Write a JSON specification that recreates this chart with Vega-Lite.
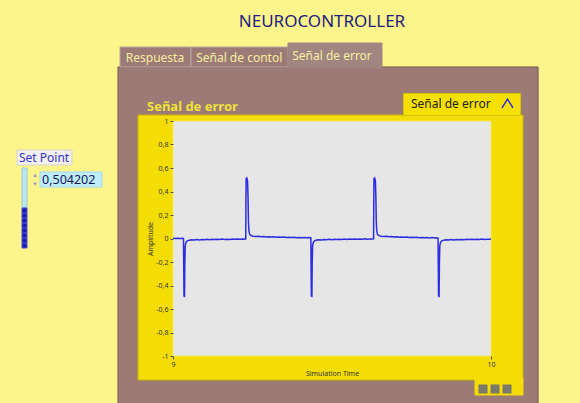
{
  "$schema": "https://vega.github.io/schema/vega-lite/v6.json",
  "width": 318,
  "height": 235,
  "autosize": {"type": "none"},
  "padding": {"left": 173, "top": 121, "right": 89, "bottom": 47},
  "background": "#fdf48c",
  "title": {"text": "NEUROCONTROLLER", "fontSize": 17, "fontWeight": "normal", "color": "#1c1c80", "anchor": "middle", "offset": 12, "dx": -10},
  "config": {"view": {"stroke": null}, "font": "Noto Sans"},
  "encoding": {
    "x": {
      "field": "t", "type": "quantitative",
      "scale": {"domain": [9, 10], "nice": false, "zero": false},
      "axis": {"values": [9, 10], "format": "d", "title": "Simulation Time", "titleFontSize": 7, "titleFontWeight": "normal", "titleColor": "#333333", "titlePadding": 2, "labelFontSize": 7, "labelColor": "#333333", "labelFlush": false, "labelPadding": 1, "tickSize": 3, "tickColor": "#555555", "domain": false, "grid": false, "zindex": 1}
    },
    "y": {
      "field": "v", "type": "quantitative",
      "scale": {"domain": [-1, 1], "nice": false, "zero": false},
      "axis": {"values": [-1, -0.8, -0.6, -0.4, -0.2, 0, 0.2, 0.4, 0.6, 0.8, 1], "labelExpr": "replace(replace(format(datum.value, '.1~f'), '.', ','), '−', '-')", "title": "Amplitude", "titleFontSize": 7, "titleFontWeight": "normal", "titleColor": "#333333", "titlePadding": 2, "labelFontSize": 7, "labelColor": "#333333", "labelPadding": 2, "tickSize": 3, "tickColor": "#555555", "domain": false, "grid": false, "zindex": 1}
    }
  },
  "layer": [
    {
      "data": {"values": [
        {"t": 8.827, "t2": 10.148, "v": -1.45, "v2": 1.4596, "part": "panel"},
        {"t": 8.8333, "t2": 9.0566, "v": 1.4596, "v2": 1.6298, "part": "tab"},
        {"t": 9.0566, "t2": 9.3616, "v": 1.4596, "v2": 1.6298, "part": "tab"},
        {"t": 9.3616, "t2": 9.6572, "v": 1.452, "v2": 1.6638, "part": "active tab"},
        {"t": 8.8899, "t2": 10.1006, "v": -1.2043, "v2": 1.0511, "part": "frame"},
        {"t": 9.9497, "t2": 10.1006, "v": -1.3319, "v2": -1.19, "part": "strip"},
        {"t": 9.9591, "t2": 9.9906, "v": -1.3234, "v2": -1.2383, "part": "tool"},
        {"t": 9.9969, "t2": 10.0283, "v": -1.3234, "v2": -1.2383, "part": "tool"},
        {"t": 10.0346, "t2": 10.066, "v": -1.3234, "v2": -1.2383, "part": "tool"},
        {"t": 9, "t2": 10, "v": -1, "v2": 1, "part": "plot"},
        {"t": 8.5094, "t2": 8.6824, "v": 0.6255, "v2": 0.7532, "part": "label"},
        {"t": 8.5252, "t2": 8.5409, "v": 0.2596, "v2": 0.6, "part": "track"},
        {"t": 8.5252, "t2": 8.5409, "v": -0.0809, "v2": -0.0383, "part": "level"},
        {"t": 8.5252, "t2": 8.5409, "v": -0.0383, "v2": 0.0043, "part": "level"},
        {"t": 8.5252, "t2": 8.5409, "v": 0.0043, "v2": 0.0468, "part": "level"},
        {"t": 8.5252, "t2": 8.5409, "v": 0.0468, "v2": 0.0894, "part": "level"},
        {"t": 8.5252, "t2": 8.5409, "v": 0.0894, "v2": 0.1319, "part": "level"},
        {"t": 8.5252, "t2": 8.5409, "v": 0.1319, "v2": 0.1745, "part": "level"},
        {"t": 8.5252, "t2": 8.5409, "v": 0.1745, "v2": 0.217, "part": "level"},
        {"t": 8.5252, "t2": 8.5409, "v": 0.217, "v2": 0.2596, "part": "level"},
        {"t": 8.5818, "t2": 8.7767, "v": 0.4383, "v2": 0.566, "part": "numeric"}
      ]},
      "mark": {"type": "rect", "strokeWidth": 1},
      "encoding": {
        "x2": {"field": "t2"},
        "y2": {"field": "v2"},
        "fill": {"field": "part", "type": "nominal", "legend": null, "scale": {
          "domain": ["panel", "tab", "active tab", "frame", "strip", "tool", "plot", "label", "track", "level", "numeric"],
          "range": ["#9c7b76", "#9c7b76", "#a08580", "#f3dd05", "#f3dd05", "#7a786a", "#e6e6e6", "#f2f0ee", "#b6e7f4", "#1c1ca6", "#bdeefa"]}},
        "stroke": {"field": "part", "type": "nominal", "legend": null, "scale": {
          "domain": ["panel", "tab", "active tab", "frame", "strip", "tool", "plot", "label", "track", "level", "numeric"],
          "range": ["#6f5652", "#bca7a2", "#a08580", "#c9b300", "#f3dd05", "#f3dd05", "#f7ee60", "#d8d4c8", "#a0c8d8", "#4a4ae0", "#a8d8e8"]}}
      }
    },
    {
      "data": {"values": [
        {"t": 8.9434, "v": 1.5387, "label": "Respuesta"},
        {"t": 9.2082, "v": 1.5387, "label": "Señal de contol"},
        {"t": 9.5, "v": 1.5557, "label": "Señal de error"}
      ]},
      "mark": {"type": "text", "fontSize": 12, "color": "#f6efa0", "align": "center", "baseline": "middle"},
      "encoding": {"text": {"field": "label"}}
    },
    {
      "data": {"values": [{"t": 8.9182, "v": 1.1191, "label": "Señal de error"}]},
      "mark": {"type": "text", "fontSize": 13, "fontWeight": "bold", "color": "#f0e23a", "align": "left", "baseline": "middle"},
      "encoding": {"text": {"field": "label"}}
    },
    {
      "data": {"values": [{"t": 8.5157, "v": 0.6851, "label": "Set Point"}]},
      "mark": {"type": "text", "fontSize": 12, "color": "#3434c8", "align": "left", "baseline": "middle"},
      "encoding": {"text": {"field": "label"}}
    },
    {
      "data": {"values": [{"t": 8.5881, "v": 0.4979, "label": "0,504202"}]},
      "mark": {"type": "text", "fontSize": 12.5, "color": "#14145a", "align": "left", "baseline": "middle"},
      "encoding": {"text": {"field": "label"}}
    },
    {
      "data": {"values": [{"t": 8.566, "v": 0.5404, "label": "▲"}, {"t": 8.566, "v": 0.4638, "label": "▼"}]},
      "mark": {"type": "text", "fontSize": 6, "color": "#9a9ac0", "align": "center", "baseline": "middle"},
      "encoding": {"text": {"field": "label"}}
    },
    {
      "data": {"values": [
        {"t": 9.000, "v": 0.002}, {"t": 9.008, "v": 0.0}, {"t": 9.016, "v": 0.003}, {"t": 9.024, "v": 0.001}, {"t": 9.030, "v": 0.002}, {"t": 9.033, "v": 0.0},
        {"t": 9.0338, "v": -0.25}, {"t": 9.0346, "v": -0.49}, {"t": 9.0362, "v": -0.492}, {"t": 9.0372, "v": -0.22}, {"t": 9.0385, "v": -0.06}, {"t": 9.041, "v": -0.03}, {"t": 9.045, "v": -0.02},
        {"t": 9.051, "v": -0.014}, {"t": 9.059, "v": -0.011}, {"t": 9.067, "v": -0.013}, {"t": 9.075, "v": -0.009}, {"t": 9.083, "v": -0.012}, {"t": 9.091, "v": -0.008}, {"t": 9.099, "v": -0.011}, {"t": 9.107, "v": -0.007}, {"t": 9.115, "v": -0.01}, {"t": 9.123, "v": -0.007}, {"t": 9.131, "v": -0.009}, {"t": 9.139, "v": -0.006}, {"t": 9.147, "v": -0.009}, {"t": 9.155, "v": -0.005}, {"t": 9.163, "v": -0.008}, {"t": 9.171, "v": -0.006}, {"t": 9.179, "v": -0.008}, {"t": 9.187, "v": -0.005}, {"t": 9.195, "v": -0.007}, {"t": 9.203, "v": -0.004}, {"t": 9.211, "v": -0.007}, {"t": 9.219, "v": -0.005}, {"t": 9.225, "v": -0.006},
        {"t": 9.2288, "v": -0.004}, {"t": 9.2294, "v": 0.3}, {"t": 9.23, "v": 0.51}, {"t": 9.232, "v": 0.515}, {"t": 9.2345, "v": 0.49}, {"t": 9.236, "v": 0.35}, {"t": 9.2372, "v": 0.15}, {"t": 9.2385, "v": 0.07}, {"t": 9.2405, "v": 0.04}, {"t": 9.2435, "v": 0.028}, {"t": 9.2475, "v": 0.023},
        {"t": 9.253, "v": 0.02}, {"t": 9.261, "v": 0.018}, {"t": 9.269, "v": 0.019}, {"t": 9.277, "v": 0.015}, {"t": 9.285, "v": 0.017}, {"t": 9.293, "v": 0.013}, {"t": 9.301, "v": 0.015}, {"t": 9.309, "v": 0.012}, {"t": 9.317, "v": 0.014}, {"t": 9.325, "v": 0.011}, {"t": 9.333, "v": 0.013}, {"t": 9.341, "v": 0.01}, {"t": 9.349, "v": 0.012}, {"t": 9.357, "v": 0.009}, {"t": 9.365, "v": 0.011}, {"t": 9.373, "v": 0.008}, {"t": 9.381, "v": 0.01}, {"t": 9.389, "v": 0.007}, {"t": 9.397, "v": 0.009}, {"t": 9.405, "v": 0.006}, {"t": 9.413, "v": 0.009}, {"t": 9.421, "v": 0.006}, {"t": 9.428, "v": 0.008}, {"t": 9.4335, "v": 0.005},
        {"t": 9.4343, "v": -0.25}, {"t": 9.4351, "v": -0.49}, {"t": 9.4367, "v": -0.492}, {"t": 9.4377, "v": -0.22}, {"t": 9.439, "v": -0.06}, {"t": 9.4415, "v": -0.03}, {"t": 9.4455, "v": -0.02},
        {"t": 9.451, "v": -0.013}, {"t": 9.459, "v": -0.01}, {"t": 9.467, "v": -0.012}, {"t": 9.475, "v": -0.008}, {"t": 9.483, "v": -0.011}, {"t": 9.491, "v": -0.007}, {"t": 9.499, "v": -0.01}, {"t": 9.507, "v": -0.006}, {"t": 9.515, "v": -0.009}, {"t": 9.523, "v": -0.006}, {"t": 9.531, "v": -0.008}, {"t": 9.539, "v": -0.005}, {"t": 9.547, "v": -0.008}, {"t": 9.555, "v": -0.004}, {"t": 9.563, "v": -0.007}, {"t": 9.571, "v": -0.005}, {"t": 9.579, "v": -0.007}, {"t": 9.587, "v": -0.004}, {"t": 9.595, "v": -0.006}, {"t": 9.603, "v": -0.003}, {"t": 9.611, "v": -0.006}, {"t": 9.619, "v": -0.004}, {"t": 9.626, "v": -0.005},
        {"t": 9.6308, "v": -0.003}, {"t": 9.6314, "v": 0.3}, {"t": 9.632, "v": 0.51}, {"t": 9.634, "v": 0.515}, {"t": 9.6365, "v": 0.49}, {"t": 9.638, "v": 0.35}, {"t": 9.6392, "v": 0.15}, {"t": 9.6405, "v": 0.07}, {"t": 9.6425, "v": 0.04}, {"t": 9.6455, "v": 0.028}, {"t": 9.6495, "v": 0.023},
        {"t": 9.655, "v": 0.02}, {"t": 9.663, "v": 0.017}, {"t": 9.671, "v": 0.019}, {"t": 9.679, "v": 0.015}, {"t": 9.687, "v": 0.016}, {"t": 9.695, "v": 0.013}, {"t": 9.703, "v": 0.015}, {"t": 9.711, "v": 0.011}, {"t": 9.719, "v": 0.013}, {"t": 9.727, "v": 0.01}, {"t": 9.735, "v": 0.012}, {"t": 9.743, "v": 0.009}, {"t": 9.751, "v": 0.011}, {"t": 9.759, "v": 0.008}, {"t": 9.767, "v": 0.01}, {"t": 9.775, "v": 0.007}, {"t": 9.783, "v": 0.009}, {"t": 9.791, "v": 0.006}, {"t": 9.799, "v": 0.008}, {"t": 9.807, "v": 0.005}, {"t": 9.815, "v": 0.008}, {"t": 9.822, "v": 0.005}, {"t": 9.828, "v": 0.007}, {"t": 9.8335, "v": 0.004},
        {"t": 9.8343, "v": -0.25}, {"t": 9.8351, "v": -0.49}, {"t": 9.8367, "v": -0.492}, {"t": 9.8377, "v": -0.22}, {"t": 9.839, "v": -0.06}, {"t": 9.8415, "v": -0.03}, {"t": 9.8455, "v": -0.02},
        {"t": 9.851, "v": -0.014}, {"t": 9.859, "v": -0.011}, {"t": 9.867, "v": -0.013}, {"t": 9.875, "v": -0.009}, {"t": 9.883, "v": -0.012}, {"t": 9.891, "v": -0.008}, {"t": 9.899, "v": -0.011}, {"t": 9.907, "v": -0.008}, {"t": 9.915, "v": -0.01}, {"t": 9.923, "v": -0.007}, {"t": 9.931, "v": -0.009}, {"t": 9.939, "v": -0.006}, {"t": 9.947, "v": -0.009}, {"t": 9.955, "v": -0.006}, {"t": 9.963, "v": -0.008}, {"t": 9.971, "v": -0.005}, {"t": 9.979, "v": -0.008}, {"t": 9.987, "v": -0.006}, {"t": 9.995, "v": -0.007}, {"t": 10.0, "v": -0.005}
      ]},
      "mark": {"type": "line", "strokeWidth": 1.5, "interpolate": "linear"},
      "encoding": {
        "color": {"datum": "Señal de error", "type": "nominal", "scale": {"range": ["#2c2ce0"]}, "legend": {
          "title": null, "orient": "none", "legendX": 230, "legendY": -28,
          "fillColor": "#f5e000", "strokeColor": "#d6c300", "padding": 4,
          "symbolType": "M-1,0.8L0,-0.8L1,0.8", "symbolSize": 120, "symbolStrokeWidth": 1.5, "symbolFillColor": "transparent",
          "symbolOffset": 94, "labelOffset": -103, "labelFontSize": 12, "labelColor": "#222222"
        }}
      }
    }
  ]
}
